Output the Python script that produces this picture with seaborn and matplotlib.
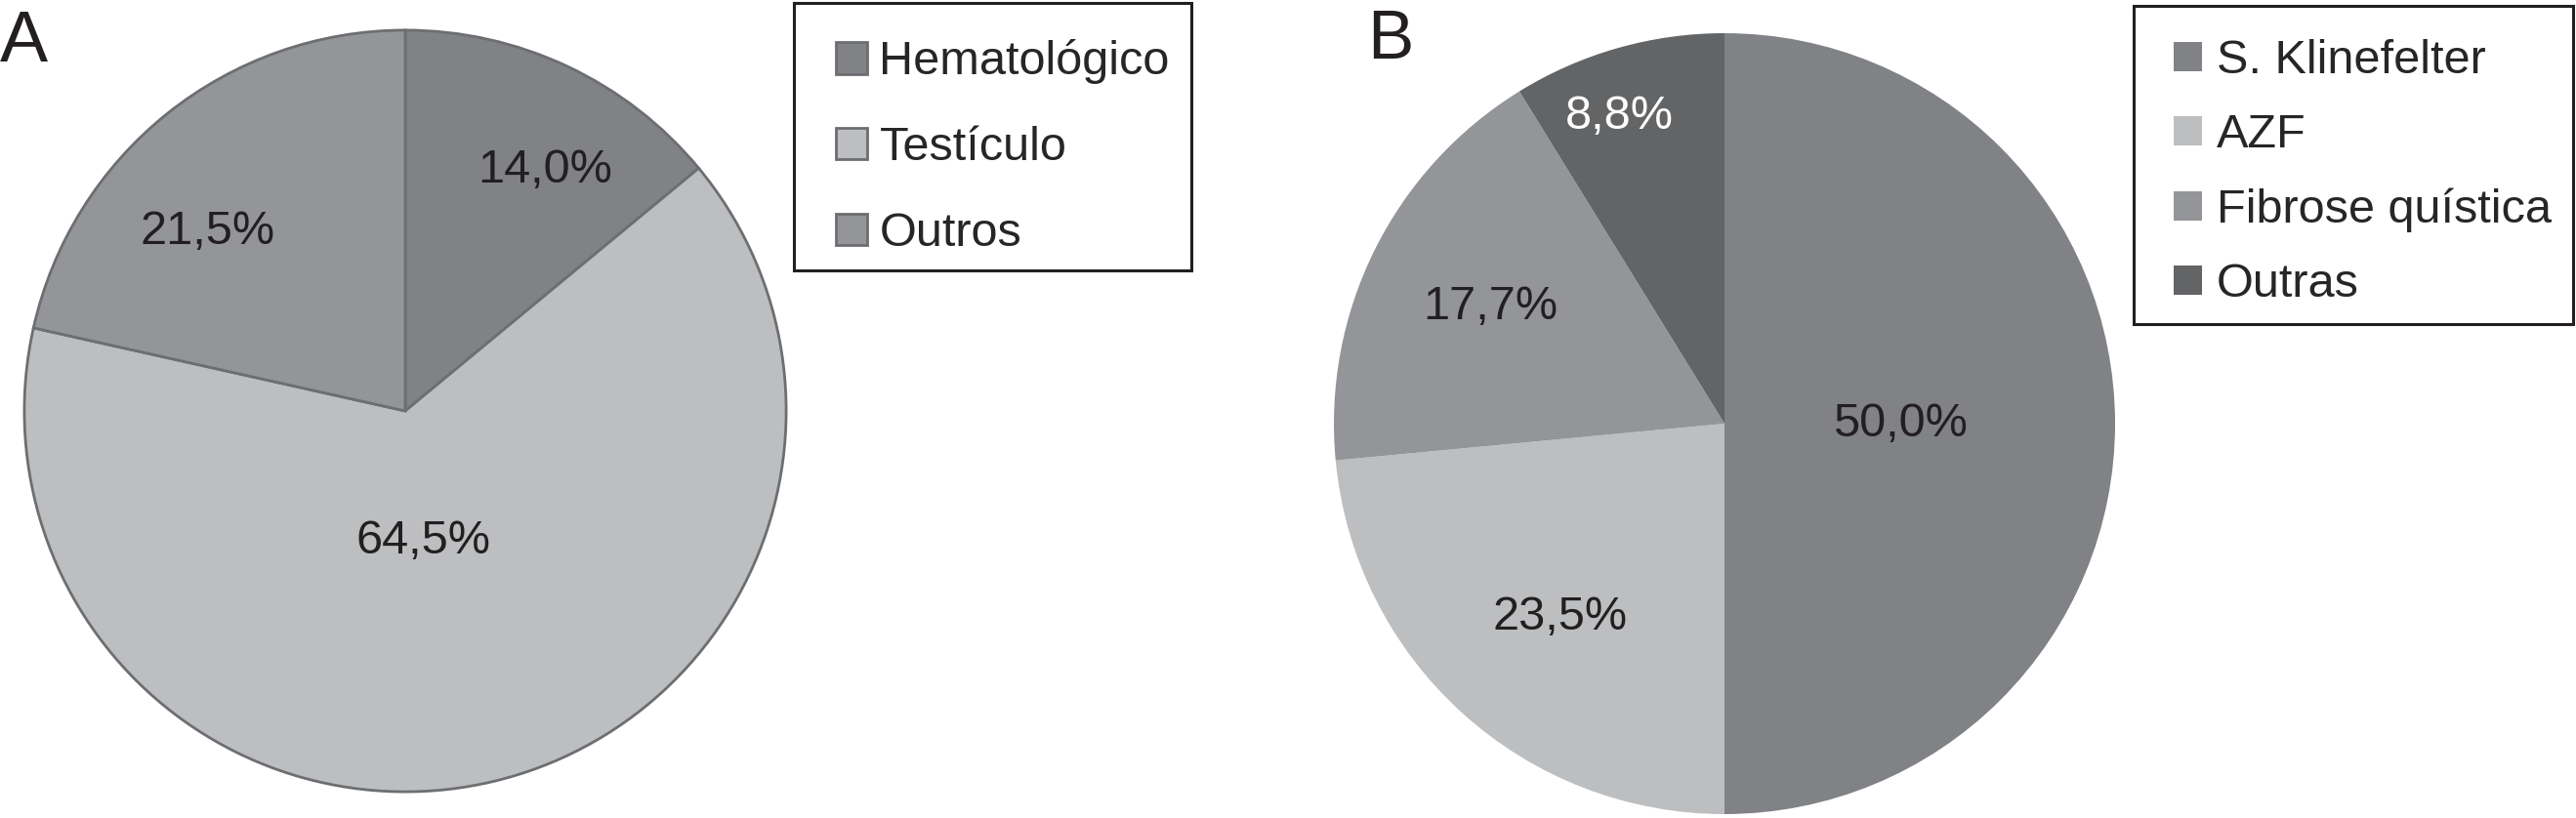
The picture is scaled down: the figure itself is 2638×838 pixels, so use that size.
import matplotlib
matplotlib.use('Agg')
import matplotlib.pyplot as plt
from matplotlib.legend_handler import HandlerPatch
import numpy as np
import seaborn as sns

sns.set_style('white')
plt.rcParams['font.family'] = ['Liberation Sans', 'DejaVu Sans']

# panel A
labels_a = ['Hematológico', 'Testículo', 'Outros']
values_a = [14.0, 64.5, 21.5]
colors_a = sns.color_palette(['#808285', '#bcbec0', '#939598'])

# panel B
labels_b = ['S. Klinefelter', 'AZF', 'Fibrose quística', 'Outras']
values_b = [50.0, 23.5, 17.7, 8.8]
colors_b = sns.color_palette(['#808285', '#bcbec0', '#939598', '#636466'])

W, H = 2638, 838
FS = 35
fig = plt.figure(figsize=(W / 100, H / 100), dpi=100)


def px_axes(cx, cy, r):
    return fig.add_axes([(cx - r) / W, (H - cy - r) / H, 2 * r / W, 2 * r / H])


def fmt(p):
    return f'{p:.1f}%'.replace('.', ',')


def draw_pie(ax, values, colors, edge, dists, shifts, txt_colors):
    wedges, _, autotexts = ax.pie(values, colors=colors, startangle=90, counterclock=False,
                                  autopct=fmt, wedgeprops=edge,
                                  textprops=dict(fontsize=FS, color='#231f20'))
    for w, t, d, s, c in zip(wedges, autotexts, dists, shifts, txt_colors):
        mid = np.deg2rad((w.theta1 + w.theta2) / 2 + s)
        t.set_position((d * np.cos(mid), d * np.sin(mid)))
        t.set_color(c)
    ax.set_xlim(-1.01, 1.01)
    ax.set_ylim(-1.01, 1.01)
    ax.set_aspect('equal')
    ax.axis('off')
    return wedges


def square_handler(sq):
    # square swatch pushed to the right end of the handle area (sq in points)
    def make(legend, orig_handle, xdescent, ydescent, width, height, fontsize):
        return plt.Rectangle((-xdescent + width - sq, -ydescent + (height - sq) / 2), sq, sq)
    return HandlerPatch(patch_func=make)


def box(x0, y0, x1, y1):
    # legend frame, given in pixels from the top-left corner
    fig.patches.append(plt.Rectangle((x0 / W, 1 - y1 / H), (x1 - x0) / W, (y1 - y0) / H,
                                     transform=fig.transFigure, fill=False,
                                     ec='#231f20', lw=2.2))


ax_a = px_axes(415, 421, 394)
wedges_a = draw_pie(ax_a, values_a, colors_a,
                    dict(edgecolor='#6d6e71', linewidth=2),
                    [0.73, 0.345, 0.70], [-5, -5.5, 9], ['#231f20'] * 3)

ax_b = px_axes(1766, 434, 404)
wedges_b = draw_pie(ax_b, values_b, colors_b,
                    dict(edgecolor='none', linewidth=0),
                    [0.45, 0.65, 0.67, 0.83], [0, 2, 0, 3], ['#231f20'] * 3 + ['white'])

handles_a = [plt.Rectangle((0, 0), 1, 1, fc=c, ec='#6d6e71', lw=2) for c in colors_a]
fig.legend(handles_a, labels_a, loc='upper left',
           bbox_to_anchor=(813 / W, 1 - 15 / H), borderaxespad=0,
           fontsize=FS, frameon=False, handlelength=1.03, handleheight=0.72,
           handletextpad=0.25, labelspacing=0.88, borderpad=0.52,
           handler_map={plt.Rectangle: square_handler(23.5)})
box(813, 3, 1220, 277)

handles_b = [plt.Rectangle((0, 0), 1, 1, fc=c, ec='none') for c in colors_b]
fig.legend(handles_b, labels_b, loc='upper left',
           bbox_to_anchor=(2185 / W, 1 - 15 / H), borderaxespad=0,
           fontsize=FS, frameon=False, handlelength=0.93, handleheight=0.68,
           handletextpad=0.3, labelspacing=0.64, borderpad=0.52,
           handler_map={plt.Rectangle: square_handler(21.5)})
box(2185, 6, 2635, 332)

fig.text(0 / W, 1 - 9 / H, 'A', fontsize=53, color='#231f20', ha='left', va='top')
fig.text(1400 / W, 1 - 9 / H, 'B', fontsize=51, color='#231f20', ha='left', va='top')

fig.savefig('out.png', dpi=100, facecolor='white')
